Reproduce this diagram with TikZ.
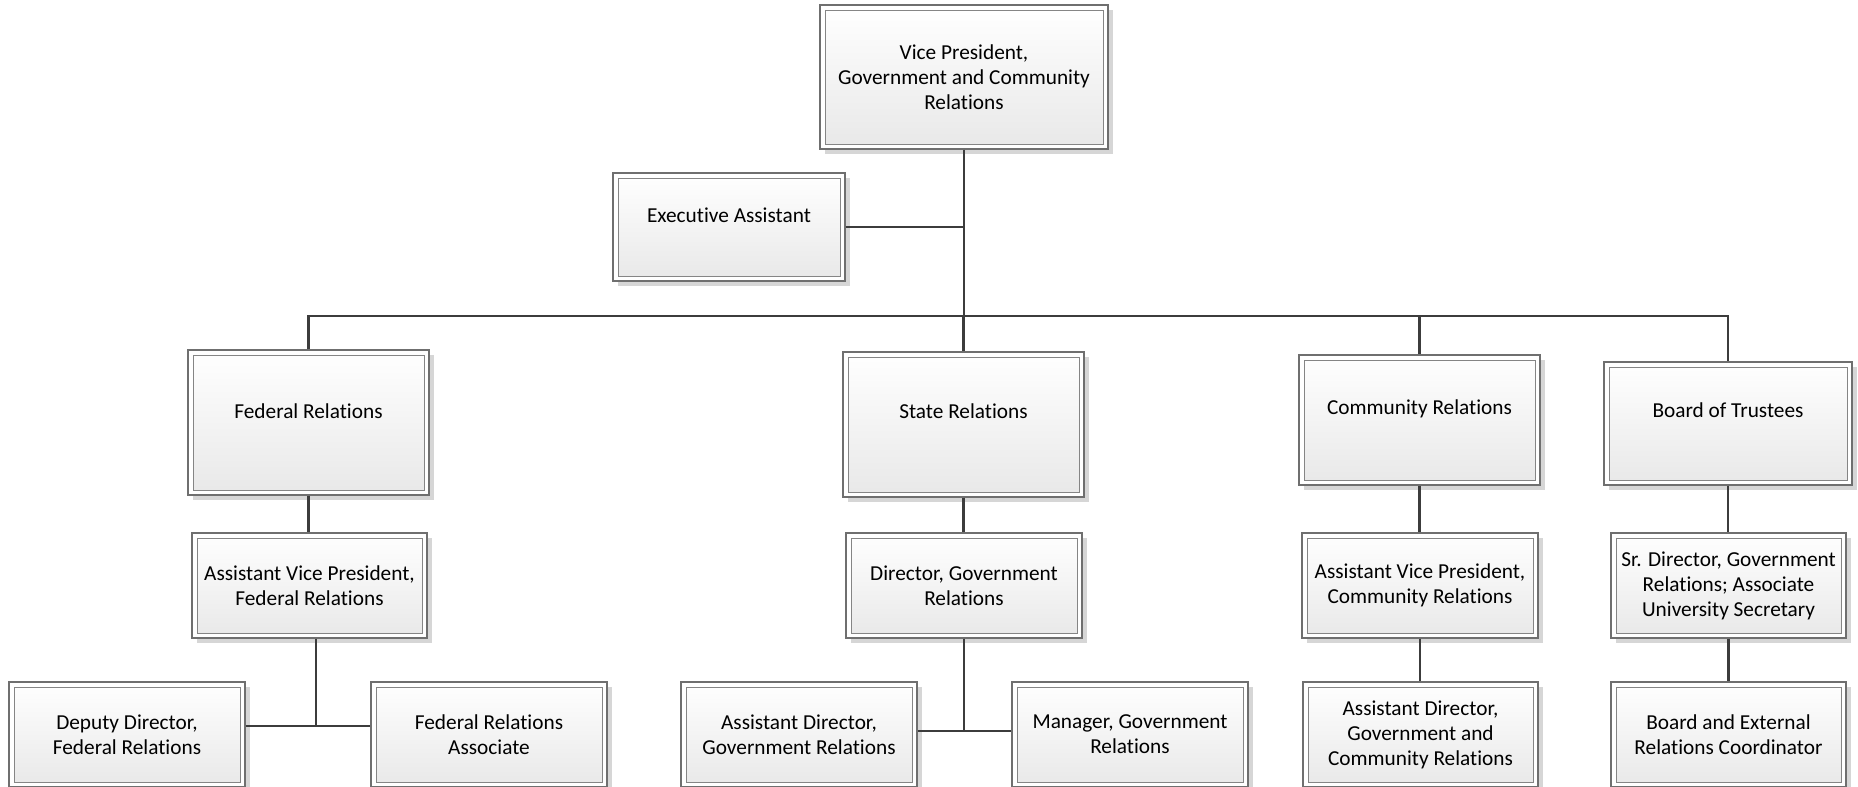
\documentclass[tikz,border=0pt]{standalone}
\usepackage{fontspec}
\setmainfont{Carlito}[Ligatures=NoCommon]
\definecolor{bordergray}{HTML}{6F6F6F}
\definecolor{innergray}{HTML}{858585}
\definecolor{linegray}{HTML}{3C3C3C}
\definecolor{shadowgray}{HTML}{D6D6D6}
\newcommand{\liftxt}[2]{\raisebox{#1}[0pt][0pt]{#2}}
\tikzset{
  orgbox/.style={draw=bordergray, line width=1.2pt, fill=white, inner sep=0pt,
    align=center,
    preaction={fill=shadowgray, transform canvas={xshift=4.5pt,yshift=-4.5pt}},
    path picture={\shade[top color=white, bottom color=black!9, draw=innergray, line width=1pt]
      ([xshift=5pt,yshift=-5pt]path picture bounding box.north west) rectangle
      ([xshift=-5pt,yshift=5pt]path picture bounding box.south east);}},
  conn/.style={draw=linegray, line width=2.7pt}
}
\begin{document}
\begin{tikzpicture}[x=1pt,y=-1pt,font=\fontsize{21.3}{25}\selectfont]
\useasboundingbox (0,0) rectangle (1858,787);
% level 0
\node[orgbox, minimum width=288, minimum height=144] (vp) at (964,77) {Vice President,\\Government and Community\\Relations};
\node[orgbox, minimum width=232, minimum height=108] (exec) at (729,227) {\liftxt{5pt}{Executive Assistant}};
% level 1
\node[orgbox, minimum width=241, minimum height=145] (fed) at (308.5,422.5) {\liftxt{4.5pt}{Federal Relations}};
\node[orgbox, minimum width=241, minimum height=145] (state) at (963.5,424.5) {\liftxt{6.5pt}{State Relations}};
\node[orgbox, minimum width=241, minimum height=130] (comm) at (1419.5,420) {\liftxt{6pt}{Community Relations}};
\node[orgbox, minimum width=248, minimum height=123] (board) at (1728,423.5) {\liftxt{6.5pt}{Board of Trustees}};
% level 2
\node[orgbox, minimum width=235, minimum height=105] (avpf) at (309.5,585.5) {Assistant Vice President,\\Federal Relations};
\node[orgbox, minimum width=236, minimum height=105] (dir) at (964,585.5) {Director, Government\\Relations};
\node[orgbox, minimum width=236, minimum height=105] (avpc) at (1420,585.5) {Assistant Vice President,\\Community Relations};
\node[orgbox, minimum width=235, minimum height=105] (srdir) at (1728.5,585.5) {Sr. Director, Government\\Relations; Associate\\University Secretary};
% level 3
\node[orgbox, minimum width=236, minimum height=105] (deputy) at (127,734.5) {Deputy Director,\\Federal Relations};
\node[orgbox, minimum width=236, minimum height=105] (assoc) at (489,734.5) {Federal Relations\\Associate};
\node[orgbox, minimum width=236, minimum height=105] (agov) at (799,734.5) {Assistant Director,\\Government Relations};
\node[orgbox, minimum width=236, minimum height=105] (mgr) at (1130,734.5) {Manager, Government\\Relations};
\node[orgbox, minimum width=235, minimum height=105] (adgc) at (1420.5,734.5) {Assistant Director,\\Government and\\Community Relations};
\node[orgbox, minimum width=235, minimum height=105] (bext) at (1728.5,734.5) {Board and External\\Relations Coordinator};
% junctions
\coordinate (bus) at (964,316);
\coordinate (fj) at (316,726);
\coordinate (mj) at (964,731);
% connectors
\draw[conn] (vp.south) -- (vp.south |- bus);
\draw[conn] (exec.east) -- (exec.east -| vp.south);
\draw[conn] (fed.north) -- (fed.north |- bus) -- (board.north |- bus) -- (board.north);
\draw[conn] (state.north |- bus) -- (state.north);
\draw[conn] (comm.north |- bus) -- (comm.north);
\draw[conn] (fed.south) -- (fed.south |- avpf.north);
\draw[conn] (state.south) -- (state.south |- dir.north);
\draw[conn] (comm.south) -- (comm.south |- avpc.north);
\draw[conn] (board.south) -- (board.south |- srdir.north);
\draw[conn] (avpf.south -| fj) -- (fj);
\draw[conn] (deputy.east |- fj) -- (assoc.west |- fj);
\draw[conn] (dir.south) -- (mj);
\draw[conn] (agov.east |- mj) -- (mgr.west |- mj);
\draw[conn] (avpc.south) -- (avpc.south |- adgc.north);
\draw[conn] (srdir.south) -- (srdir.south |- bext.north);
\end{tikzpicture}
\end{document}
